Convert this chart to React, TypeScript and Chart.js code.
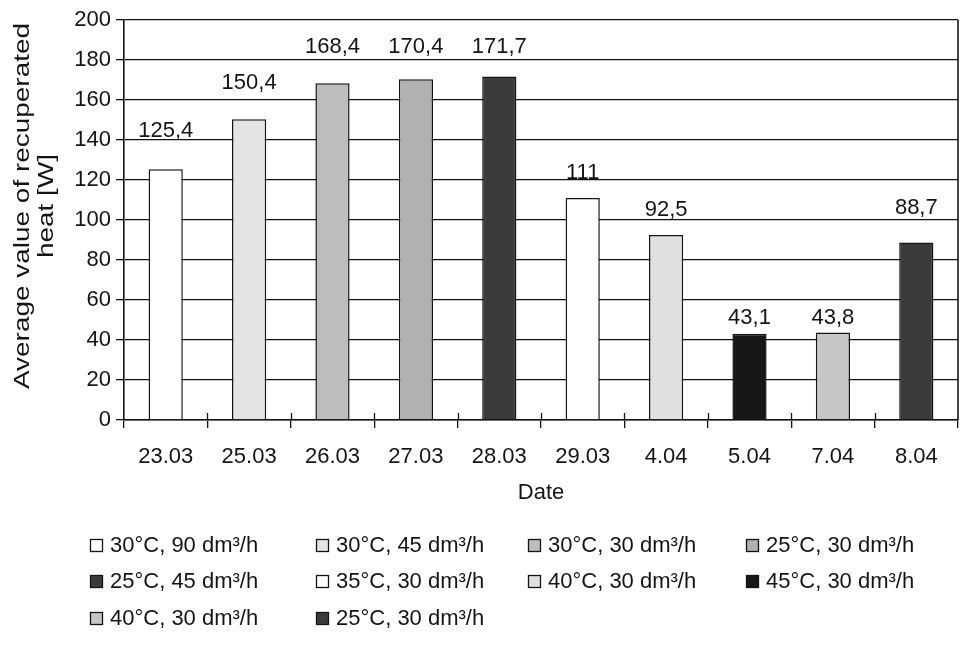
import React, { useEffect, useRef } from 'react';
import { Chart, registerables } from 'chart.js';

Chart.register(...registerables);

// ---- data ----
const categories = ['23.03', '25.03', '26.03', '27.03', '28.03', '29.03', '4.04', '5.04', '7.04', '8.04'];
const values = [125.4, 150.4, 168.4, 170.4, 171.7, 111, 92.5, 43.1, 43.8, 88.7];
const seriesLabels = [
  '30°C, 90 dm³/h',
  '30°C, 45 dm³/h',
  '30°C, 30 dm³/h',
  '25°C, 30 dm³/h',
  '25°C, 45 dm³/h',
  '35°C, 30 dm³/h',
  '40°C, 30 dm³/h',
  '45°C, 30 dm³/h',
  '40°C, 30 dm³/h',
  '25°C, 30 dm³/h',
];
const yMin = 0;
const yMax = 200;
const yStep = 20;
const yTitleLines = ['Average value of recuperated', 'heat [W]'];
const xTitle = 'Date';

// ---- styles ----
const FONT = 'Liberation Sans, Arial, sans-serif';
const FS = 22;
const INK = '#141414';
const fills = ['#ffffff', '#e4e4e4', '#bdbdbd', '#b1b1b1', '#3b3b3b', '#ffffff', '#e0e0e0', '#161616', '#c6c6c6', '#3a3a3a'];
const labelLift = [38, 36, 36, 32, 30, 25, 25, 16, 14, 35];
const legendCols = [90, 316, 528, 746];
const legendRows = [545, 581, 618];

const fmt = (v: number) => String(v).replace('.', ',');

const decorPlugin = {
  id: 'decor',
  afterDatasetsDraw(chart: any) {
    const { ctx, chartArea } = chart;
    const n = categories.length;
    ctx.save();
    ctx.strokeStyle = INK;
    // right border
    ctx.lineWidth = 1.6;
    ctx.beginPath();
    ctx.moveTo(chartArea.right, chartArea.top);
    ctx.lineTo(chartArea.right, chartArea.bottom);
    ctx.stroke();
    // inner half of crossing x tick marks
    ctx.lineWidth = 1.3;
    const w = (chartArea.right - chartArea.left) / n;
    for (let k = 1; k < n; k++) {
      const px = Math.round(chartArea.left + k * w) + 0.5;
      ctx.beginPath();
      ctx.moveTo(px, chartArea.bottom);
      ctx.lineTo(px, chartArea.bottom - 7);
      ctx.stroke();
    }
    // value labels
    ctx.fillStyle = INK;
    ctx.font = `${FS}px ${FONT}`;
    ctx.textAlign = 'center';
    ctx.textBaseline = 'middle';
    chart.data.datasets.forEach((ds: any, i: number) => {
      const el = chart.getDatasetMeta(i).data[i];
      if (!el) return;
      ctx.fillText(fmt(values[i]), el.x, el.y - labelLift[i]);
    });
    ctx.restore();
  },
  afterDraw(chart: any) {
    const { ctx, chartArea } = chart;
    ctx.save();
    // y title (stretched along its length as in the scanned original)
    ctx.fillStyle = INK;
    ctx.font = `${FS}px ${FONT}`;
    ctx.textAlign = 'center';
    ctx.textBaseline = 'middle';
    const cy = (chartArea.top + chartArea.bottom) / 2 - 14;
    yTitleLines.forEach((line, i) => {
      ctx.save();
      ctx.translate(23 + i * 24, cy);
      ctx.rotate(-Math.PI / 2);
      ctx.scale(1.27, 1);
      ctx.fillText(line, 0, 0);
      ctx.restore();
    });
    // legend
    ctx.textAlign = 'left';
    chart.data.datasets.forEach((ds: any, i: number) => {
      const col = i % legendCols.length;
      const row = Math.floor(i / legendCols.length);
      const bx = legendCols[col];
      const by = legendRows[row];
      ctx.fillStyle = ds.backgroundColor;
      ctx.fillRect(bx, by - 6, 12, 12);
      ctx.strokeStyle = INK;
      ctx.lineWidth = 1.3;
      ctx.strokeRect(bx + 0.5, by - 5.5, 12, 12);
      ctx.fillStyle = INK;
      ctx.fillText(ds.label, bx + 20, by + 1);
    });
    ctx.restore();
  },
};

export default function App() {
  const ref = useRef<HTMLCanvasElement>(null);

  useEffect(() => {
    if (!ref.current) return;
    const datasets = seriesLabels.map((label, i) => ({
      label,
      data: categories.map((_, j) => (j === i ? values[i] : null)),
      backgroundColor: fills[i],
      borderColor: INK,
      borderWidth: 1.5,
      skipNull: true,
      barPercentage: 0.41,
      categoryPercentage: 1,
    }));
    const chart = new Chart(ref.current, {
      type: 'bar',
      data: { labels: categories, datasets },
      options: {
        responsive: false,
        animation: false,
        layout: { padding: { top: 20, right: 3, bottom: 148, left: 0 } },
        plugins: {
          legend: { display: false },
          tooltip: { enabled: false },
        },
        scales: {
          x: {
            offset: true,
            afterFit: (s: any) => { s.height = 86; },
            grid: { offset: true, drawOnChartArea: false, color: INK, lineWidth: 1.3, tickLength: 8 },
            border: { color: INK, width: 1.6 },
            ticks: { font: { family: FONT, size: FS }, color: INK, padding: 16 },
            title: { display: true, text: xTitle, font: { family: FONT, size: FS }, color: INK, padding: { top: 0, bottom: 0 } },
          },
          y: {
            min: yMin,
            max: yMax,
            afterFit: (s: any) => { s.width = 124; },
            ticks: { stepSize: yStep, font: { family: FONT, size: FS }, color: INK, padding: 5 },
            grid: { color: INK, lineWidth: 1.3, tickLength: 8 },
            border: { color: INK, width: 1.6 },
          },
        },
      },
      plugins: [decorPlugin],
    } as any);
    return () => chart.destroy();
  }, []);

  return (
    <div style={{ position: 'fixed', left: 0, top: 0, width: 961, height: 654, background: '#fff' }}>
      <canvas ref={ref} width={961} height={654} style={{ display: 'block' }} />
    </div>
  );
}
